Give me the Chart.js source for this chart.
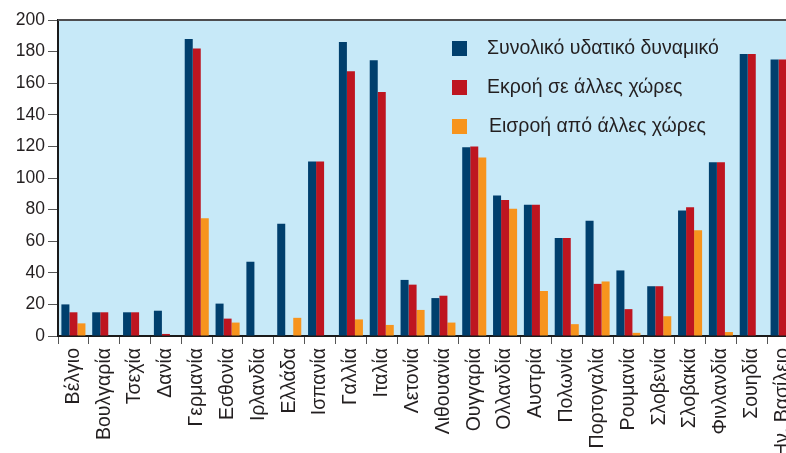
<!DOCTYPE html>
<html>
<head>
  <script src="https://cdn.jsdelivr.net/npm/chart.js@4.4.1/dist/chart.umd.min.js"></script>
<style>
  html, body { margin: 0; padding: 0; background: #ffffff; overflow: hidden; }
</style>
</head>
<body>
  <canvas id="myChart" width="798" height="453"></canvas>
  <script>
    var xores = ['Βέλγιο', 'Βουλγαρία', 'Τσεχία', 'Δανία', 'Γερμανία', 'Εσθονία', 'Ιρλανδία', 'Ελλάδα',
      'Ισπανία', 'Γαλλία', 'Ιταλία', 'Λετονία', 'Λιθουανία', 'Ουγγαρία', 'Ολλανδία', 'Αυστρία',
      'Πολωνία', 'Πορτογαλία', 'Ρουμανία', 'Σλοβενία', 'Σλοβακία', 'Φινλανδία', 'Σουηδία', 'Ην. Βασίλειο'];

    var synoliko = [20, 15, 15, 16, 188, 20.5, 47, 71, 110.5, 186, 174.5, 35.5, 24, 119.5, 89, 83,
      62, 73, 41.5, 31.5, 79.5, 110, 178.5, 175];
    var ekroi = [15, 15, 15, 1.3, 182, 11, 0, 0, 110.5, 167.5, 154.5, 32.5, 25.5, 120, 86, 83,
      62, 33, 17, 31.5, 81.5, 110, 178.5, 175];
    var eisroi = [8, 0, 0, 0, 74.5, 8.5, 0, 11.5, 0, 10.5, 7, 16.5, 8.5, 113, 80.5, 28.5,
      7.5, 34.5, 2, 12.5, 67, 2.5, 0, 0];

    var yTicks = [0, 20, 40, 60, 80, 100, 120, 140, 160, 180, 200];

    var FONT = '"Liberation Sans", Arial, sans-serif';

    // background of the plot area, top border and the legend box inside the plot
    var plotDeco = {
      id: 'plotDeco',
      beforeDraw: function (chart) {
        var a = chart.chartArea, c = chart.ctx;
        c.save();
        c.fillStyle = '#c7e9f8';
        c.fillRect(a.left, a.top, a.right - a.left, a.bottom - a.top);
        c.restore();
      },
      afterDraw: function (chart) {
        var a = chart.chartArea, c = chart.ctx;
        c.save();
        c.strokeStyle = '#4d4d4f';
        c.lineWidth = 2;
        c.beginPath();
        c.moveTo(a.left, a.top);
        c.lineTo(a.right, a.top);
        c.stroke();

        var x0 = 452, y0 = 41, step = 39;
        c.font = '19.5px ' + FONT;
        c.textBaseline = 'middle';
        chart.data.datasets.forEach(function (ds, i) {
          c.fillStyle = ds.backgroundColor;
          c.fillRect(x0, y0 + i * step, 15, 15);
          c.fillStyle = '#231f20';
          c.fillText(ds.label, x0 + 35 + (i == 2 ? 2 : 0), y0 + i * step + 8);
        });
        c.restore();
      }
    };

    var ctx = document.getElementById('myChart');

    new Chart(ctx, {
      type: 'bar',
      data: {
        labels: xores,
        datasets: [
          { label: 'Συνολικό υδατικό δυναμικό', data: synoliko, backgroundColor: '#003f6d' },
          { label: 'Εκροή σε άλλες χώρες', data: ekroi, backgroundColor: '#be1520' },
          { label: 'Εισροή από άλλες χώρες', data: eisroi, backgroundColor: '#f7941d' }
        ]
      },
      options: {
        responsive: false,
        animation: false,
        layout: { padding: { top: 20, left: 0, right: 0, bottom: 0 } },
        datasets: { bar: { categoryPercentage: 0.78, barPercentage: 1.0 } },
        plugins: {
          legend: { display: false },
          tooltip: { enabled: false }
        },
        scales: {
          x: {
            offset: true,
            grid: { drawOnChartArea: false, drawTicks: true, tickLength: 8, color: '#555' },
            border: { display: true, color: '#1a1a1a', width: 2 },
            ticks: {
              autoSkip: false, minRotation: 90, maxRotation: 90, padding: 4,
              color: '#231f20', font: { family: FONT, size: 19.5 }
            },
            afterFit: function (s) { s.height = 117; s.paddingRight = 0; s.paddingLeft = 0; }
          },
          y: {
            min: 0, max: 200,
            afterBuildTicks: function (s) { s.ticks = yTicks.map(function (v) { return { value: v }; }); },
            grid: { drawOnChartArea: false, drawTicks: true, tickLength: 10, color: '#555' },
            border: { display: true, color: '#1a1a1a', width: 2 },
            ticks: { padding: 3, color: '#231f20', font: { family: FONT, size: 17.5 } },
            afterFit: function (s) { s.width = 58; s.paddingTop = 0; }
          }
        }
      },
      plugins: [plotDeco]
    });
  </script>
</body>
</html>
